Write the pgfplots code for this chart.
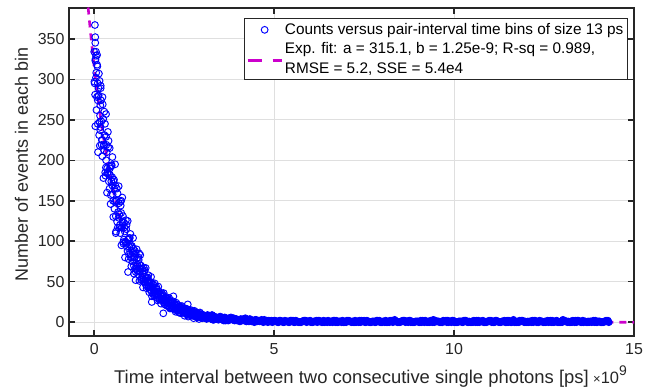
\documentclass[border=0pt]{standalone}
\usepackage{pgfplots}
\pgfplotsset{compat=1.18}
\usepackage{fontspec}
\setmainfont{Liberation Sans}
\definecolor{axgray}{rgb}{0.15,0.15,0.15}
\definecolor{gridgray}{RGB}{223,223,223}
\definecolor{fitmag}{RGB}{204,0,204}
\pgfplotsset{
  scatleg/.style={legend image code/.code={\draw[##1, mark repeat=2, mark phase=2] plot coordinates {(0bp,0bp)(17bp,0bp)(34bp,0bp)};}},
  fitleg/.style={legend image code/.code={\draw[##1, solid] (0bp,-2bp)--(14bp,-2bp) (25bp,-2bp)--(34bp,-2bp);}},
}
\begin{document}
\begin{tikzpicture}
\useasboundingbox (-69bp,-52bp) rectangle (576bp,336bp);
\begin{axis}[
  at={(0,0)}, anchor=south west,
  scale only axis, width=565bp, height=328bp,
  xmin=-0.7, xmax=15, ymin=-17, ymax=388,
  xtick={0,5,10,15}, ytick={0,50,100,150,200,250,300,350},
  scaled x ticks=false,
  grid=major, major grid style={gridgray, line width=0.8bp},
  axis line style={axgray, line width=1.5bp},
  major tick style={axgray, line width=1.5bp},
  major tick length=6bp,
  tick align=inside,
  ticklabel style={font=\fontsize{16}{19}\selectfont, text=axgray},
  /pgf/number format/assume math mode=true,
  xticklabel style={yshift=-4bp},
  yticklabel style={xshift=-1bp},
  xlabel={Time interval between two consecutive single photons [ps]},
  ylabel={Number of events in each bin},
  label style={font=\fontsize{18.5}{22}\selectfont, text=axgray},
  ylabel style={font=\fontsize{18}{22}\selectfont},
  xlabel style={at={(axis description cs:0.5,-0.1433)}, anchor=base},
  ylabel style={at={(axis description cs:-0.0726,0.523)}, anchor=base},
  legend style={at={(axis description cs:1,1)}, anchor=north east, xshift=-6bp, yshift=-10bp,
    draw=axgray, line width=1.1bp, fill=white, font=\fontsize{15.4}{20}\selectfont,
    inner xsep=2bp, inner ysep=3bp, row sep=2bp, cells={align=left, anchor=west}},
]
\addplot[only marks, mark=o, mark size=3.4bp, blue, mark options={line width=0.95bp, blue}, scatleg]
coordinates {
(0.02,367)(0.03,352)(0.03,345)(0.05,334)(0.03,323)(0.08,318)(0.05,302)(0.1,295)(0.12,289)(0.18,289)(0.1,274)(0.17,268)(0.15,247)(0.33,257)(0.17,237)(0.22,225)(0.28,212)(0.33,200)(0.36,190)(0.44,182)(0.5,169)(0.94,62)(1.25,85)(1.92,11)(1.15,52)(0.6,110)(0.75,150)(1.6,25)(2.2,32)(2.6,22)
(0,334)(0.025,281)(0.05,329)(0.075,278)(0.1,245)(0.125,280)(0.15,298)(0.175,241)(0.2,248)(0.225,205)(0.25,251)(0.275,219)(0.3,245)(0.325,191)(0.35,210)(0.375,185)(0.4,224)(0.425,165)(0.45,192)(0.475,174)(0.5,179)(0.525,150)(0.55,176)(0.575,149)(0.6,131)(0.625,150)(0.65,159)(0.675,129)(0.7,133)(0.725,110)(0.75,135)(0.775,117)(0.8,131)(0.825,102)(0.85,112)(0.875,99)(0.9,120)(0.925,88)(0.95,103)(0.975,93)(1,96)(1.025,80)(1.05,94)(1.075,80)(1.1,70)(1.125,80)(1.15,85)(1.175,69)(1.2,71)(1.225,59)(1.25,72)(1.275,63)(1.3,70)(1.325,55)(1.35,60)(1.375,53)(1.4,64)(1.425,47)(1.45,55)(1.475,50)(1.5,51)(1.525,43)(1.55,50)(1.575,43)(1.6,37)(1.625,43)(1.65,46)(1.675,37)(1.7,38)(1.725,31)(1.75,38)(1.775,34)(1.8,38)(1.825,29)(1.85,32)(1.875,28)(1.9,34)(1.925,25)(1.95,29)(1.975,27)(2,27)(2.025,21)(2.05,27)(2.075,23)(2.1,20)(2.125,23)(2.15,24)(2.175,20)(2.2,20)(2.225,17)(2.25,21)(2.275,18)(2.3,20)(2.325,16)(2.35,17)(2.375,15)(2.4,18)(2.425,14)(2.45,16)(2.475,14)(2.5,15)(2.525,12)(2.55,14)(2.575,12)(2.6,11)(2.625,12)(2.65,13)(2.675,11)(2.7,11)(2.725,9)(2.75,11)(2.775,10)(2.8,11)(2.825,8)(2.85,9)(2.875,8)(2.9,10)(2.925,7)(2.95,8)(2.975,8)(3,8)
(0.0125,295)(0.0375,325)(0.0625,262)(0.0875,316)(0.1125,279)(0.1375,231)(0.1625,255)(0.1875,274)(0.2125,225)(0.2375,269)(0.2625,218)(0.2875,231)(0.3125,181)(0.3375,219)(0.3625,184)(0.3875,216)(0.4125,183)(0.4375,190)(0.4625,157)(0.4875,194)(0.5125,158)(0.5375,174)(0.5625,140)(0.5875,169)(0.6125,150)(0.6375,124)(0.6625,136)(0.6875,147)(0.7125,120)(0.7375,144)(0.7625,117)(0.7875,124)(0.8125,97)(0.8375,117)(0.8625,99)(0.8875,115)(0.9125,98)(0.9375,102)(0.9625,84)(0.9875,104)(1.0125,84)(1.0375,93)(1.0625,75)(1.0875,91)(1.1125,80)(1.1375,66)(1.1625,73)(1.1875,79)(1.2125,64)(1.2375,77)(1.2625,62)(1.2875,66)(1.3125,52)(1.3375,63)(1.3625,53)(1.3875,62)(1.4125,52)(1.4375,54)(1.4625,45)(1.4875,55)(1.5125,45)(1.5375,50)(1.5625,40)(1.5875,49)(1.6125,43)(1.6375,35)(1.6625,39)(1.6875,42)(1.7125,34)(1.7375,41)(1.7625,33)(1.7875,35)(1.8125,28)(1.8375,34)(1.8625,28)(1.8875,33)(1.9125,28)(1.9375,29)(1.9625,24)(1.9875,30)(2.0125,24)(2.0375,29)(2.0625,20)(2.0875,28)(2.1125,18)(2.1375,24)(2.1625,17)(2.1875,25)(2.2125,18)(2.2375,22)(2.2625,13)(2.2875,22)(2.3125,15)(2.3375,21)(2.3625,12)(2.3875,18)(2.4125,11)(2.4375,20)(2.4625,13)(2.4875,17)(2.5125,8)(2.5375,17)(2.5625,10)(2.5875,16)(2.6125,7)(2.6375,14)(2.6625,9)(2.6875,15)(2.7125,8)(2.7375,13)(2.7625,5)(2.7875,14)(2.8125,7)(2.8375,12)(2.8625,6)(2.8875,11)(2.9125,4)(2.9375,12)(2.9625,6)(2.9875,10)(3.0125,5)
(0.006,297)(0.031,242)(0.056,308)(0.081,330)(0.106,210)(0.131,307)(0.156,218)(0.181,292)(0.206,219)(0.231,278)(0.256,178)(0.281,260)(0.306,185)(0.331,229)(0.356,160)(0.381,235)(0.406,174)(0.431,215)(0.456,146)(0.481,193)(0.506,204)(0.531,130)(0.556,165)(0.581,195)(0.606,112)(0.631,165)(0.656,117)(0.681,168)(0.706,117)(0.731,149)(0.756,95)(0.781,154)(0.806,99)(0.831,123)(0.856,80)(0.881,126)(0.906,93)(0.931,125)(0.956,78)(0.981,104)(1.006,109)(1.031,69)(1.056,88)(1.081,104)(1.106,60)(1.131,88)(1.156,62)(1.181,90)(1.206,63)(1.231,80)(1.256,51)(1.281,83)(1.306,53)(1.331,66)(1.356,43)(1.381,67)(1.406,50)(1.431,67)(1.456,42)(1.481,55)(1.506,58)(1.531,37)(1.556,47)(1.581,56)(1.606,32)(1.631,47)(1.656,33)(1.681,48)(1.706,34)(1.731,43)(1.756,27)(1.781,44)(1.806,28)(1.831,35)(1.856,23)(1.881,36)(1.906,27)(1.931,36)(1.956,22)(1.981,30)(2.006,31)(2.031,20)(2.056,25)(2.081,30)(2.106,17)(2.131,25)(2.156,18)(2.181,26)(2.206,18)(2.231,23)(2.256,15)(2.281,24)(2.306,15)(2.331,19)(2.356,12)(2.381,19)(2.406,14)(2.431,19)(2.456,12)(2.481,16)(2.506,17)(2.531,11)(2.556,14)(2.581,16)(2.606,9)(2.631,13)(2.656,10)(2.681,14)(2.706,10)(2.731,12)(2.756,8)(2.781,13)(2.806,8)(2.831,10)(2.856,7)(2.881,10)(2.906,8)(2.931,10)(2.956,6)(2.981,8)(3.006,9)
};
\addlegendentry{Counts versus pair-interval time bins of size 13 ps}
\addplot[forget plot, only marks, mark=*, mark size=3.4bp, blue, mark options={line width=0.8bp, draw=blue, fill=blue}]
coordinates {
(3.05,6)(3.15,9)(3.25,4)(3.35,7)(3.45,3)(3.55,6)(3.65,2)(3.75,5)(3.85,3)(3.95,4)(4.05,1)(4.15,4)(4.25,2)(4.35,3)(4.45,0)(4.55,2)(4.65,3)(4.75,1)(4.85,2)(4.95,0)(5.05,1)(5.15,2)(5.25,0)(5.35,1)(5.45,2)(5.55,0)(5.65,1)(5.75,0)(5.85,2)(5.95,1)(6.05,0)(6.15,1)(6.25,2)(6.35,0)(6.45,1)(6.55,0)(6.65,2)(6.75,0)(6.85,1)(6.95,0)(7.05,1)(7.15,0)(7.25,2)(7.35,0)(7.45,1)(7.55,0)(7.65,0)(7.75,1)(7.85,2)(7.95,0)(8.05,1)(8.15,0)(8.25,1)(8.35,3)(8.45,0)(8.55,1)(8.65,0)(8.75,2)(8.85,0)(8.95,1)(9.05,0)(9.15,1)(9.25,0)(9.35,2)(9.45,0)(9.55,1)(9.65,0)(9.75,1)(9.85,0)(9.95,2)(10.05,0)(10.15,1)(10.25,0)(10.35,1)(10.45,0)(10.55,2)(10.65,0)(10.75,1)(10.85,0)(10.95,1)(11.05,0)(11.15,2)(11.25,0)(11.35,1)(11.45,0)(11.55,1)(11.65,3)(11.75,0)(11.85,1)(11.95,0)(12.05,1)(12.15,0)(12.25,2)(12.35,0)(12.45,1)(12.55,0)(12.65,1)(12.75,0)(12.85,2)(12.95,0)(13.05,1)(13.15,0)(13.25,1)(13.35,0)(13.45,2)(13.55,0)(13.65,1)(13.75,0)(13.85,1)(13.95,0)(14.05,1)(14.15,0)(14.25,1)
(3.1,5)(3.2,8)(3.3,3)(3.4,5)(3.5,7)(3.6,2)(3.7,4)(3.8,6)(3.9,2)(4.0,3)(4.1,2)(4.2,5)(4.3,1)(4.4,2)(4.5,3)(4.6,1)(4.7,0)(4.8,2)(4.9,1)(5.0,2)(5.1,0)(5.2,1)(5.3,2)(5.4,0)(5.5,1)(5.6,2)(5.7,0)(5.8,1)(5.9,0)(6.0,2)(6.1,1)(6.2,0)(6.3,1)(6.4,0)(6.5,2)(6.6,1)(6.7,0)(6.8,1)(6.9,2)(7.0,0)(7.1,1)(7.2,0)(7.3,1)(7.4,0)(7.5,2)(7.6,1)(7.7,0)(7.8,0)(7.9,1)(8.0,0)(8.1,2)(8.2,0)(8.3,0)(8.4,1)(8.5,0)(8.6,2)(8.7,1)(8.8,0)(8.9,0)(9.0,1)(9.1,0)(9.2,2)(9.3,1)(9.4,0)(9.5,1)(9.6,0)(9.7,2)(9.8,0)(9.9,1)(10.0,0)(10.1,0)(10.2,1)(10.3,2)(10.4,0)(10.5,1)(10.6,0)(10.7,0)(10.8,2)(10.9,0)(11.0,1)(11.1,0)(11.2,1)(11.3,0)(11.4,2)(11.5,0)(11.6,0)(11.7,1)(11.8,0)(11.9,2)(12.0,0)(12.1,1)(12.2,0)(12.3,0)(12.4,1)(12.5,0)(12.6,2)(12.7,0)(12.8,1)(12.9,0)(13.0,0)(13.1,1)(13.2,0)(13.3,2)(13.4,0)(13.5,1)(13.6,0)(13.7,0)(13.8,1)(13.9,0)(14.0,1)(14.1,0)(14.2,1)(14.3,0)
(3.025,7)(3.125,4)(3.225,6)(3.325,3)(3.425,5)(3.525,4)(3.625,6)(3.725,2)(3.825,4)(3.925,3)(4.025,2)(4.125,3)(4.225,1)(4.325,4)(4.425,2)(4.525,1)(4.625,2)(4.725,3)(4.825,0)(4.925,2)
(5.025,2)(5.125,0)(5.225,1)(5.325,1)(5.425,0)(5.525,2)(5.625,1)(5.725,0)(5.825,2)(5.925,1)(6.025,0)(6.125,1)(6.225,2)(6.325,0)(6.425,1)(6.525,1)(6.625,0)(6.725,2)(6.825,1)(6.925,0)(7.025,2)(7.125,1)(7.225,0)(7.325,1)(7.425,2)(7.525,0)(7.625,1)(7.725,1)(7.825,0)(7.925,2)(8.025,1)(8.125,0)(8.225,2)(8.325,1)(8.425,0)(8.525,1)(8.625,2)(8.725,0)(8.825,1)(8.925,1)(9.025,0)(9.125,2)(9.225,1)(9.325,0)(9.425,3)(9.525,1)(9.625,0)(9.725,1)(9.825,2)(9.925,0)(10.025,1)(10.125,1)(10.225,0)(10.325,2)(10.425,1)(10.525,0)(10.625,2)(10.725,1)(10.825,0)(10.925,1)(11.025,2)(11.125,0)(11.225,1)(11.325,1)(11.425,0)(11.525,2)(11.625,1)(11.725,0)(11.825,2)(11.925,1)(12.025,0)(12.125,1)(12.225,2)(12.325,0)(12.425,1)(12.525,1)(12.625,0)(12.725,2)(12.825,1)(12.925,0)(13.025,3)(13.125,1)(13.225,0)(13.325,1)(13.425,2)(13.525,0)(13.625,1)(13.725,1)(13.825,0)(13.925,2)(14.025,1)(14.125,0)(14.225,2)
(3.075,8)(3.175,5)(3.275,9)(3.375,4)(3.475,6)(3.575,3)(3.675,5)(3.775,4)(3.875,5)(3.975,2)(4.075,4)(4.175,2)(4.275,3)(4.375,1)(4.475,3)(4.575,2)(4.675,1)(4.775,2)(4.875,1)(4.975,1)
(5.075,1)(5.175,2)(5.275,0)(5.375,1)(5.475,2)(5.575,0)(5.675,0)(5.775,1)(5.875,2)(5.975,1)(6.075,0)(6.175,2)(6.275,1)(6.375,2)(6.475,0)(6.575,1)(6.675,2)(6.775,0)(6.875,0)(6.975,1)(7.075,2)(7.175,1)(7.275,0)(7.375,2)(7.475,1)(7.575,2)(7.675,0)(7.775,1)(7.875,2)(7.975,0)(8.075,0)(8.175,1)(8.275,2)(8.375,1)(8.475,0)(8.575,2)(8.675,1)(8.775,2)(8.875,0)(8.975,1)(9.075,2)(9.175,0)(9.275,0)(9.375,1)(9.475,2)(9.575,1)(9.675,0)(9.775,2)(9.875,1)(9.975,2)(10.075,0)(10.175,1)(10.275,2)(10.375,0)(10.475,0)(10.575,1)(10.675,2)(10.775,1)(10.875,0)(10.975,2)(11.075,1)(11.175,2)(11.275,0)(11.375,1)(11.475,2)(11.575,0)(11.675,0)(11.775,1)(11.875,2)(11.975,1)(12.075,0)(12.175,2)(12.275,1)(12.375,2)(12.475,0)(12.575,1)(12.675,2)(12.775,0)(12.875,0)(12.975,1)(13.075,2)(13.175,1)(13.275,0)(13.375,2)(13.475,1)(13.575,2)(13.675,0)(13.775,1)(13.875,2)(13.975,0)(14.075,0)(14.175,1)(14.275,2)
};
\addplot[fitmag, line width=2.6bp, dash pattern=on 7bp off 6bp, fitleg]
coordinates {
(-0.2,404.6)(-0.15,380.1)(-0.1,357.0)(-0.05,335.4)(0,315.1)(0.05,296.0)(0.1,278.1)(0.15,261.2)(0.2,245.4)(0.25,230.5)(0.3,216.6)(0.35,203.5)(0.4,191.1)(0.45,179.6)(0.5,168.7)(0.55,158.5)(0.6,148.9)(0.65,139.9)(0.7,131.4)(0.75,123.4)(0.8,116.0)(0.85,108.9)(0.9,102.4)(0.95,96.1)(1.0,90.3)(1.05,84.8)(1.1,79.7)(1.15,74.9)(1.2,70.3)(1.25,66.1)(1.3,62.1)(1.35,58.3)(1.4,54.8)(1.45,51.5)(1.5,48.3)(1.6,42.6)(1.7,37.6)(1.8,33.2)(1.9,29.3)(2.0,25.9)(2.1,22.8)(2.2,20.1)(2.3,17.8)(2.4,15.7)(2.5,13.8)(2.6,12.2)(2.8,9.5)(3.0,7.4)(3.25,5.4)(3.5,4.0)(3.75,2.9)(4.0,2.1)(4.5,1.1)(5.0,0.6)(5.5,0.3)(6,0.17)(7,0.05)(8,0.01)(10,0)(15,0)
};
\addlegendentry{Exp. fit: a = 315.1, b = 1.25e-9; R-sq = 0.989,\\RMSE = 5.2, SSE = 5.4e4}
\end{axis}
\node[anchor=base west, text=axgray, inner sep=0pt] at (524bp,-47bp)
  {{\fontsize{13}{15}\selectfont ×}{\fontsize{16.5}{19}\selectfont 10}\raisebox{7.5bp}{\fontsize{14}{16}\selectfont 9}};
\end{tikzpicture}
\end{document}
